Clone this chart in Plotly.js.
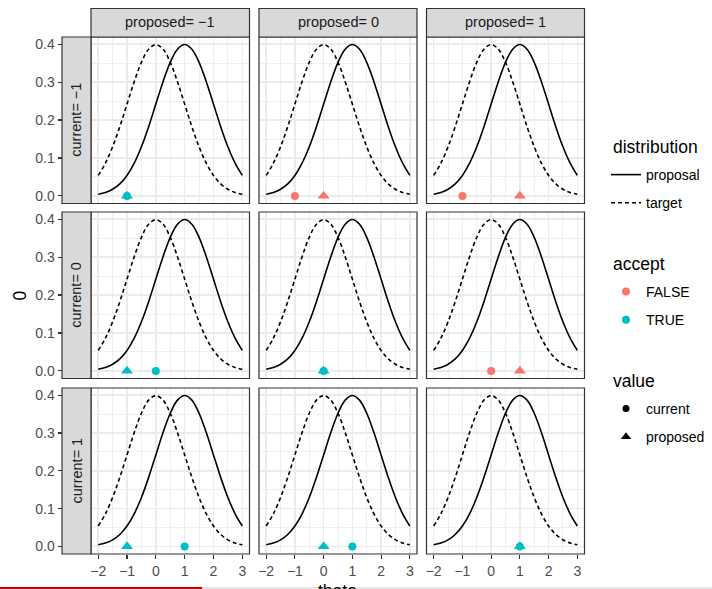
<!DOCTYPE html>
<html>
<head>
<meta charset="utf-8">
<script src="https://cdn.plot.ly/plotly-3.0.1.min.js"></script>
<style>html,body{margin:0;padding:0;background:#fff;}#chart{width:712px;height:589px;}</style>
</head>
<body>
<div id="chart"></div>
<script>
// ---- data ----
const theta = [-2, -1.75, -1.5, -1.25, -1, -0.75, -0.5, -0.25, 0, 0.25, 0.5, 0.75, 1, 1.25, 1.5, 1.75, 2, 2.25, 2.5, 2.75, 3];
const targetDensity = [0.054, 0.0863, 0.1295, 0.1826, 0.242, 0.3011, 0.3521, 0.3867, 0.3989, 0.3867, 0.3521, 0.3011, 0.242, 0.1826, 0.1295, 0.0863, 0.054, 0.0317, 0.0175, 0.0091, 0.0044];
const proposalDensity = [0.0044, 0.0091, 0.0175, 0.0317, 0.054, 0.0863, 0.1295, 0.1826, 0.242, 0.3011, 0.3521, 0.3867, 0.3989, 0.3867, 0.3521, 0.3011, 0.242, 0.1826, 0.1295, 0.0863, 0.054];
const currentValues = [-1, 0, 1];     // facet rows
const proposedValues = [-1, 0, 1];    // facet columns
const pointY = 0;
// accept[row][col]
const accepted = [
  [true, false, false],
  [true, true, false],
  [true, true, true]
];
const rowLabels = ["current= \u22121", "current= 0", "current= 1"];
const colLabels = ["proposed= \u22121", "proposed= 0", "proposed= 1"];
const xTickVals = [-2, -1, 0, 1, 2, 3];
const xTickText = ["\u22122", "\u22121", "0", "1", "2", "3"];
const yTickVals = [0, 0.1, 0.2, 0.3, 0.4];
const yTickText = ["0.0", "0.1", "0.2", "0.3", "0.4"];
const legendTitles = ["distribution", "accept", "value"];

// ---- styling / layout ----
const W = 712, H = 589;
const FONT = "Liberation Sans, Arial, sans-serif";
const COL_FALSE = "#F8766D", COL_TRUE = "#00BFC4";
const colPx = [[91, 249.5], [259, 417], [426.5, 584.5]];
const rowPx = [[37, 203.5], [212, 378.5], [388, 554]];
const px2x = p => p / W;
const px2y = p => 1 - p / H;

const traces = [];
for (let r = 0; r < 3; r++) {
  for (let c = 0; c < 3; c++) {
    const xa = c === 0 ? "x" : "x" + (c + 1);
    const ya = r === 0 ? "y" : "y" + (r + 1);
    const first = (r === 0 && c === 0);
    traces.push({
      x: theta, y: proposalDensity, xaxis: xa, yaxis: ya, type: "scatter", mode: "lines",
      line: {color: "#000", width: 1.6, shape: "spline"}, name: "proposal",
      showlegend: first, legend: "legend", legendgroup: "proposal", hoverinfo: "skip"
    });
    traces.push({
      x: theta, y: targetDensity, xaxis: xa, yaxis: ya, type: "scatter", mode: "lines",
      line: {color: "#000", width: 1.6, shape: "spline", dash: "4px,3px"}, name: "target",
      showlegend: first, legend: "legend", legendgroup: "target", hoverinfo: "skip"
    });
    const col = accepted[r][c] ? COL_TRUE : COL_FALSE;
    traces.push({
      x: [currentValues[r]], y: [pointY], xaxis: xa, yaxis: ya, type: "scatter", mode: "markers",
      marker: {symbol: "circle", size: 8, color: col}, showlegend: false, hoverinfo: "skip"
    });
    traces.push({
      x: [proposedValues[c]], y: [pointY], xaxis: xa, yaxis: ya, type: "scatter", mode: "markers",
      marker: {symbol: "triangle-up", size: 10.5, color: col}, showlegend: false, hoverinfo: "skip"
    });
  }
}
// legend-only entries
traces.push({x: [null], y: [null], type: "scatter", mode: "markers", name: "FALSE", legend: "legend2", legendgroup: "F",
  marker: {symbol: "circle", size: 8, color: COL_FALSE}});
traces.push({x: [null], y: [null], type: "scatter", mode: "markers", name: "TRUE", legend: "legend2", legendgroup: "T",
  marker: {symbol: "circle", size: 8, color: COL_TRUE}});
traces.push({x: [null], y: [null], type: "scatter", mode: "markers", name: "current", legend: "legend3", legendgroup: "c",
  marker: {symbol: "circle", size: 7, color: "#000"}});
traces.push({x: [null], y: [null], type: "scatter", mode: "markers", name: "proposed", legend: "legend3", legendgroup: "p",
  marker: {symbol: "triangle-up", size: 9, color: "#000"}});

const layout = {
  width: W, height: H,
  margin: {l: 0, r: 0, t: 0, b: 0},
  paper_bgcolor: "#fff", plot_bgcolor: "#fff",
  font: {family: FONT, size: 14, color: "#000"},
  shapes: [], annotations: []
};
const gridMajor = "#EBEBEB";
for (let c = 0; c < 3; c++) {
  const key = c === 0 ? "xaxis" : "xaxis" + (c + 1);
  layout[key] = {
    domain: [px2x(colPx[c][0]), px2x(colPx[c][1])],
    anchor: "y3", range: [-2.25, 3.25], zeroline: false, showline: false,
    tickmode: "array", tickvals: xTickVals, ticktext: xTickText,
    ticks: "outside", ticklen: 4.4, tickwidth: 1.1, tickcolor: "#333333",
    tickfont: {family: FONT, size: 14, color: "#4D4D4D"},
    showgrid: true, gridcolor: gridMajor, gridwidth: 1.6,
    minor: {tickmode: "array", tickvals: [-1.5, -0.5, 0.5, 1.5, 2.5], showgrid: true, gridcolor: gridMajor, gridwidth: 0.8, ticks: ""},
    fixedrange: true
  };
}
for (let r = 0; r < 3; r++) {
  const key = r === 0 ? "yaxis" : "yaxis" + (r + 1);
  layout[key] = {
    domain: [px2y(rowPx[r][1]), px2y(rowPx[r][0])],
    anchor: "free", position: px2x(62), range: [-0.01995, 0.41885], zeroline: false, showline: false,
    tickmode: "array", tickvals: yTickVals, ticktext: yTickText,
    ticks: "outside", ticklen: 4.4, tickwidth: 1.1, tickcolor: "#333333",
    tickfont: {family: FONT, size: 14, color: "#4D4D4D"},
    showgrid: true, gridcolor: gridMajor, gridwidth: 1.6,
    minor: {tickmode: "array", tickvals: [0.05, 0.15, 0.25, 0.35], showgrid: true, gridcolor: gridMajor, gridwidth: 0.8, ticks: ""},
    fixedrange: true
  };
}
// panel borders, strips
for (let r = 0; r < 3; r++) {
  for (let c = 0; c < 3; c++) {
    layout.shapes.push({type: "rect", xref: "paper", yref: "paper",
      x0: px2x(colPx[c][0]), x1: px2x(colPx[c][1]), y0: px2y(rowPx[r][1]), y1: px2y(rowPx[r][0]),
      line: {color: "#333333", width: 1.2}, fillcolor: "rgba(0,0,0,0)", layer: "above"});
  }
}
for (let c = 0; c < 3; c++) {
  layout.shapes.push({type: "rect", xref: "paper", yref: "paper",
    x0: px2x(colPx[c][0]), x1: px2x(colPx[c][1]), y0: px2y(37), y1: px2y(8.5),
    line: {color: "#333333", width: 1.2}, fillcolor: "#D9D9D9", layer: "above"});
  layout.annotations.push({xref: "paper", yref: "paper", x: px2x((colPx[c][0] + colPx[c][1]) / 2), y: px2y(22.5),
    text: colLabels[c], showarrow: false, xanchor: "center", yanchor: "middle",
    font: {family: FONT, size: 14.5, color: "#1A1A1A"}});
}
for (let r = 0; r < 3; r++) {
  layout.shapes.push({type: "rect", xref: "paper", yref: "paper",
    x0: px2x(62), x1: px2x(91), y0: px2y(rowPx[r][1]), y1: px2y(rowPx[r][0]),
    line: {color: "#333333", width: 1.2}, fillcolor: "#D9D9D9", layer: "above"});
  layout.annotations.push({xref: "paper", yref: "paper", x: px2x(76.5), y: px2y((rowPx[r][0] + rowPx[r][1]) / 2),
    text: rowLabels[r], showarrow: false, xanchor: "center", yanchor: "middle", textangle: -90,
    font: {family: FONT, size: 14.5, color: "#1A1A1A"}});
}
// axis titles
layout.annotations.push({xref: "paper", yref: "paper", x: px2x(337.75), y: px2y(591), text: "theta",
  showarrow: false, xanchor: "center", yanchor: "middle", font: {family: FONT, size: 17.5, color: "#000"}});
layout.annotations.push({xref: "paper", yref: "paper", x: px2x(19), y: px2y(295.5), text: "0", textangle: -90,
  showarrow: false, xanchor: "center", yanchor: "middle", font: {family: FONT, size: 17.5, color: "#000"}});
// legend titles
const legendTitleY = [147, 264, 381];
for (let i = 0; i < 3; i++) {
  layout.annotations.push({xref: "paper", yref: "paper", x: px2x(611), y: px2y(legendTitleY[i]), text: legendTitles[i],
    showarrow: false, xanchor: "left", yanchor: "middle", font: {family: FONT, size: 17.5, color: "#000"}});
}
// bottom edge strip seen in the reference capture
layout.shapes.push({type: "line", xref: "paper", yref: "paper", x0: px2x(202), x1: 1, y0: px2y(588), y1: px2y(588),
  line: {color: "#E6E6E6", width: 2}, layer: "above"});
layout.shapes.push({type: "line", xref: "paper", yref: "paper", x0: 0, x1: px2x(202), y0: px2y(588), y1: px2y(588),
  line: {color: "#C00000", width: 2}, layer: "above"});

const legBase = {
  xanchor: "left", yanchor: "top", bgcolor: "rgba(0,0,0,0)", borderwidth: 0,
  font: {family: FONT, size: 14, color: "#000"}, traceorder: "grouped", tracegroupgap: 7,
  itemclick: false, itemdoubleclick: false
};
layout.legend = Object.assign({}, legBase, {x: px2x(606), y: px2y(159)});
layout.legend2 = Object.assign({}, legBase, {x: px2x(606), y: px2y(276)});
layout.legend3 = Object.assign({}, legBase, {x: px2x(606), y: px2y(393)});

Plotly.newPlot("chart", traces, layout, {displayModeBar: false, staticPlot: true});
</script>
</body>
</html>
